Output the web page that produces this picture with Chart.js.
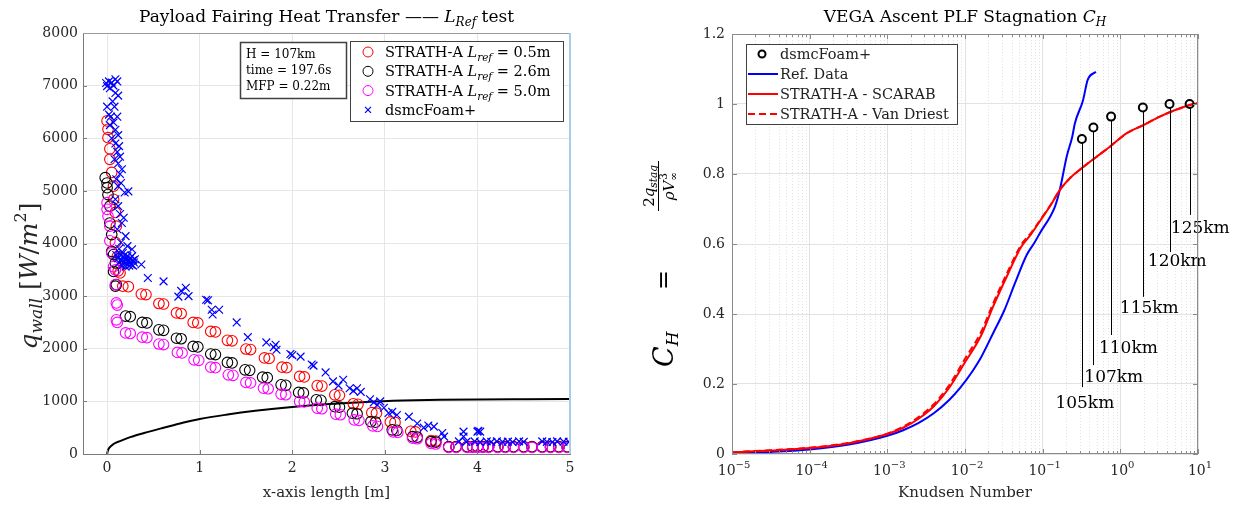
<!DOCTYPE html>
<html><head><meta charset="utf-8">
<script src="https://cdn.jsdelivr.net/npm/chart.js@4.4.1/dist/chart.umd.min.js"></script>
<style>
html,body{margin:0;padding:0;background:#fff;width:1238px;height:505px;overflow:hidden}
#c1{position:absolute;left:0;top:0;width:600px;height:505px}
#c2{position:absolute;left:620px;top:0;width:618px;height:505px}
</style></head><body>
<canvas id="c1" width="600" height="505"></canvas>
<canvas id="c2" width="618" height="505"></canvas>
<script>
// ---------------- LEFT PANEL DATA ----------------
const xTicksLeft = [0, 1, 2, 3, 4, 5];
const yTicksLeft = [0, 1000, 2000, 3000, 4000, 5000, 6000, 7000, 8000];

const strath05 = [[0.00,6330],[0.01,6170],[0.01,6010],[0.03,5800],[0.03,5600],[0.05,5350],[0.07,5090],[0.07,4840],[0.09,4590],[0.10,4330],[0.09,4020],[0.11,3750],[0.12,3480],[0.14,3440],
 [0.17,3190],[0.23,3180],[0.37,3040],[0.42,3030],[0.56,2860],[0.61,2850],[0.75,2680],[0.80,2670],[0.93,2500],[0.98,2490],[1.12,2330],[1.17,2320],[1.30,2160],[1.35,2150],[1.50,1995],[1.55,1985],[1.70,1825],[1.75,1815],[1.89,1650],[1.94,1640],[2.08,1475],[2.13,1465],[2.27,1300],[2.32,1290],[2.46,1125],[2.51,1115],[2.66,955],[2.71,945],[2.86,785],[2.91,775],[3.06,610],[3.11,600],[3.28,430],[3.33,420],[3.50,255],[3.55,245],
 [3.69,140],[3.77,140],[3.89,140],[3.95,140],[4.0,140],[4.06,140],[4.12,140],[4.22,140],[4.30,140],[4.39,140],[4.50,140],[4.59,140],[4.70,140],[4.79,140],[4.88,140],[4.97,140]];
const strath26 = [[-0.02,5250],[0.00,5150],[0.00,5060],[0.01,4930],[0.03,4710],[0.03,4390],[0.05,4170],[0.05,3850],[0.07,3790],[0.09,3630],[0.07,3470],[0.10,3220],[0.09,3190],
 [0.20,2620],[0.25,2610],[0.38,2500],[0.43,2490],[0.56,2360],[0.61,2350],[0.75,2200],[0.80,2190],[0.93,2045],[0.98,2035],[1.12,1900],[1.17,1890],[1.30,1740],[1.35,1730],[1.49,1600],[1.54,1590],[1.68,1460],[1.73,1450],[1.88,1315],[1.93,1305],[2.07,1170],[2.12,1160],[2.26,1030],[2.31,1020],[2.46,900],[2.51,890],[2.65,775],[2.70,765],[2.85,615],[2.90,605],[3.08,460],[3.13,450],[3.30,330],[3.35,320],[3.50,235],[3.55,225],
 [3.69,135],[3.77,135],[3.89,135],[3.95,135],[4.0,135],[4.06,135],[4.12,135],[4.22,135],[4.30,135],[4.39,135],[4.50,135],[4.59,135],[4.70,135],[4.79,135],[4.88,135],[4.97,135]];
const strath50 = [[0.00,4775],[0.00,4650],[0.01,4520],[0.03,4330],[0.03,4050],[0.05,3820],[0.07,3560],[0.09,3500],[0.09,3220],[0.10,2870],[0.11,2830],[0.10,2550],[0.11,2500],
 [0.20,2300],[0.25,2290],[0.38,2220],[0.43,2210],[0.56,2090],[0.61,2080],[0.76,1930],[0.81,1920],[0.94,1790],[0.99,1780],[1.12,1650],[1.17,1640],[1.31,1505],[1.36,1495],[1.50,1360],[1.55,1350],[1.69,1250],[1.74,1240],[1.88,1136],[1.93,1126],[2.08,1000],[2.13,990],[2.27,870],[2.32,860],[2.47,756],[2.52,746],[2.67,648],[2.72,638],[2.87,533],[2.92,523],[3.09,420],[3.14,410],[3.30,300],[3.35,290],[3.50,200],[3.55,190],
 [3.69,125],[3.77,125],[3.89,125],[3.95,125],[4.0,125],[4.06,125],[4.12,125],[4.22,125],[4.30,125],[4.39,125],[4.50,125],[4.59,125],[4.70,125],[4.79,125],[4.88,125],[4.97,125]];
const dsmcLeft = [[-0.01,7050],[0.00,6990],[0.02,7080],[0.05,7060],[0.07,7000],[0.09,7120],[0.11,7080],[0.03,6950],[0.09,6860],[0.12,6810],[0.00,6600],[0.06,6700],[0.08,6600],[0.02,6450],[0.04,6410],[0.11,6410],[0.03,6250],[0.07,6300],[0.09,6160],[0.12,6060],[0.05,6000],[0.09,5900],[0.13,5850],[0.11,5740],[0.14,5650],[0.08,5600],[0.12,5520],[0.16,5410],[0.14,5320],[0.10,5220],[0.12,5090],[0.15,5150],[0.19,4970],[0.23,4990],[0.09,4840],[0.12,4710],[0.14,4560],[0.18,4490],[0.16,4390],[0.11,4270],[0.20,4140],[0.15,4020],[0.22,3950],[0.27,3890],[0.13,3900],[0.17,3820],
 [0.10,3780],[0.12,3720],[0.14,3800],[0.15,3680],[0.17,3740],[0.18,3650],[0.19,3780],[0.20,3700],[0.21,3620],[0.22,3760],[0.23,3680],[0.24,3640],[0.25,3720],[0.26,3600],[0.27,3760],[0.28,3680],[0.29,3640],[0.30,3700],[0.13,3640],[0.16,3580],[0.20,3560],[0.24,3580],[0.28,3580],
 [0.37,3600],[0.44,3345],[0.61,3280],[0.77,2990],[0.80,3100],[0.85,3160],[0.88,3000],[1.07,2930],[1.09,2920],[1.13,2740],[1.14,2650],[1.21,2740],[1.40,2500],[1.52,2220],[1.72,2120],[1.80,2030],[1.83,1980],[1.82,2075],[1.98,1900],[2.00,1880],[2.09,1850],[2.21,1700],[2.23,1680],[2.36,1550],[2.44,1380],[2.50,1300],[2.55,1410],[2.62,1250],[2.66,1200],[2.70,1250],[2.74,1180],[2.84,1040],[2.88,980],[2.92,930],[2.95,1000],[2.99,880],[3.04,780],[3.08,800],[3.13,740],[3.26,710],[3.35,580],[3.42,500],[3.47,540],[3.53,520],[3.62,400],[3.64,330],[3.85,425],[3.85,330],[4.00,425],[4.03,425],[4.01,440],
 [3.80,240],[3.88,230],[3.97,240],[4.03,225],[4.10,240],[4.15,230],[4.21,240],[4.27,230],[4.33,235],[4.38,225],[4.45,240],[4.50,230],[4.70,240],[4.75,230],[4.81,225],[4.86,240],[4.93,235],[4.99,230]];
const wallLineX = [0, 0.01, 0.03, 0.07, 0.14, 0.25, 0.4, 0.6, 0.8, 1.0, 1.3, 1.6, 2.0, 2.4, 2.8, 3.2, 3.6, 4.0, 4.5, 5.0];
const wallLineY = [0, 70, 130, 190, 245, 320, 400, 495, 585, 665, 750, 820, 895, 950, 990, 1015, 1030, 1038, 1042, 1045];

// ---------------- RIGHT PANEL DATA ----------------
const refKn = [1e-5,3.2e-5,1e-4,3.2e-4,1e-3,1.6e-3,2.5e-3,4e-3,6.3e-3,8.6e-3,1.26e-2,1.6e-2,2.3e-2,3.2e-2,4.4e-2,6.2e-2,7.9e-2,9.2e-2,0.144,0.166,0.204,0.24,0.26,0.331,0.38,0.484];
const refCH = [0.002,0.006,0.013,0.027,0.052,0.068,0.088,0.117,0.155,0.188,0.238,0.275,0.345,0.41,0.488,0.568,0.605,0.631,0.707,0.754,0.85,0.906,0.945,1.011,1.069,1.092];
const strathKn = [1e-5,3.2e-5,1e-4,3.2e-4,1e-3,1.6e-3,2.5e-3,4e-3,6.3e-3,1e-2,1.6e-2,2.3e-2,3.5e-2,5.3e-2,7.1e-2,9.2e-2,0.126,0.166,0.229,0.316,0.5,0.733,1.2,2.0,3.22,5.0,7.83,10];
const scarabCH = [0.005,0.010,0.017,0.031,0.057,0.075,0.100,0.137,0.190,0.262,0.337,0.421,0.51,0.592,0.628,0.665,0.71,0.754,0.79,0.816,0.85,0.878,0.916,0.94,0.964,0.982,0.997,1.003];
const vanDriestCH = [0.005,0.011,0.018,0.032,0.058,0.078,0.105,0.143,0.198,0.272,0.347,0.43,0.518,0.598,0.632,0.667,0.711,0.754,0.79,0.816,0.85,0.878,0.916,0.94,0.964,0.982,0.997,1.003];
const dsmcKn = [0.32, 0.45, 0.76, 1.95, 4.3, 7.8];
const dsmcCH = [0.90, 0.933, 0.964, 0.99, 1.0, 1.0];
const altLabels = ['105km','107km','110km','115km','120km','125km'];
const altLeaderEndCH = [0.191, 0.254, 0.34, 0.449, 0.577, 0.683];
const altLabelCH = [0.149, 0.223, 0.306, 0.42, 0.554, 0.649];
const altLabelKn = [0.349, 0.824, 1.27, 2.36, 5.41, 10.7];
const yTicksRight = [0, 0.2, 0.4, 0.6, 0.8, 1, 1.2];

// ---------------- HELPERS ----------------
const FONT = '"DejaVu Serif", serif';
const TXT = '#262626';
Chart.defaults.font.family = FONT;
Chart.defaults.color = TXT;
function setFont(ctx, s, i){ ctx.font = (i ? 'italic ' : '') + s + 'px ' + FONT; }
function richWidth(ctx, parts){ let w = 0; for (const p of parts){ setFont(ctx, p.s, p.i); w += ctx.measureText(p.t).width; } return w; }
function drawRich(ctx, parts, x, y, align){
  const w = richWidth(ctx, parts);
  let cx = align === 'center' ? x - w/2 : align === 'right' ? x - w : x;
  ctx.textAlign = 'left'; ctx.textBaseline = 'alphabetic';
  for (const p of parts){ setFont(ctx, p.s, p.i); ctx.fillText(p.t, cx, y + (p.dy || 0)); cx += ctx.measureText(p.t).width; }
  return w;
}
function seg(ctx, x1, y1, x2, y2){ ctx.beginPath(); ctx.moveTo(x1, y1); ctx.lineTo(x2, y2); ctx.stroke(); }
const pts = arr => arr.map(p => ({x: p[0], y: p[1]}));
const zipPts = (xs, ys) => xs.map((x, i) => ({x, y: ys[i]}));
const isPow10 = v => { const e = Math.round(Math.log10(v)); return Math.abs(v / Math.pow(10, e) - 1) < 1e-6; };

// ---------------- LEFT CHART ----------------
const leftDecor = {
  id: 'leftDecor',
  afterDraw(chart){
    const {ctx, chartArea: a, scales} = chart;
    ctx.save();
    ctx.strokeStyle = '#7a7a7a'; ctx.lineWidth = 1;
    for (const v of xTicksLeft){ const px = Math.round(scales.x.getPixelForValue(v)) + 0.5; seg(ctx, px, a.bottom, px, a.bottom - 4); }
    for (const v of yTicksLeft){ const py = Math.round(scales.y.getPixelForValue(v)) + 0.5; seg(ctx, a.left, py, a.left + 4, py); }
    ctx.strokeStyle = '#9a9a9a'; seg(ctx, a.left, a.top + 0.5, a.right, a.top + 0.5);
    ctx.strokeStyle = '#a9cde8'; ctx.lineWidth = 2; seg(ctx, a.right, a.top, a.right, a.bottom);
    ctx.fillStyle = '#000';
    drawRich(ctx, [{t:'Payload Fairing Heat Transfer ', s:17},{t:'——', s:17},{t:' ', s:17},{t:'L', s:17, i:1},{t:'Ref', s:12, i:1, dy:4},{t:' test', s:17}], (a.left + a.right)/2, 22, 'center');
    ctx.fillStyle = TXT;
    drawRich(ctx, [{t:'x-axis length [m]', s:15}], (a.left + a.right)/2, 497, 'center');
    ctx.save(); ctx.translate(37, 276); ctx.rotate(-Math.PI/2);
    drawRich(ctx, [{t:'q', s:25, i:1},{t:'wall', s:17, i:1, dy:5},{t:' [', s:25},{t:'W', s:25, i:1},{t:'/', s:25},{t:'m', s:25, i:1},{t:'2', s:16, dy:-11},{t:']', s:25}], 0, 0, 'center');
    ctx.restore();
    // info box
    const bx = a.left + 157, by = a.top + 9, bw = 106, bh = 56;
    ctx.fillStyle = '#fff'; ctx.fillRect(bx, by, bw, bh);
    ctx.strokeStyle = '#404040'; ctx.lineWidth = 1.5; ctx.strokeRect(bx + 0.5, by + 0.5, bw, bh);
    ctx.fillStyle = '#000';
    drawRich(ctx, [{t:'H = 107km', s:12}], bx + 6, by + 16, 'left');
    drawRich(ctx, [{t:'time = 197.6s', s:12}], bx + 6, by + 32, 'left');
    drawRich(ctx, [{t:'MFP = 0.22m', s:12}], bx + 6, by + 48, 'left');
    // legend
    const lx = a.right - 220, ly = a.top + 8, lw = 213, lh = 80;
    ctx.fillStyle = '#fff'; ctx.fillRect(lx, ly, lw, lh);
    ctx.strokeStyle = '#404040'; ctx.lineWidth = 1; ctx.strokeRect(lx + 0.5, ly + 0.5, lw, lh);
    const rows = [['#ff0000','0.5m'],['#000000','2.6m'],['#ff00ff','5.0m']];
    rows.forEach((r, k) => {
      const yy = ly + 11 + k * 19.3;
      ctx.strokeStyle = r[0]; ctx.lineWidth = 1; ctx.beginPath(); ctx.arc(lx + 18, yy, 5, 0, Math.PI*2); ctx.stroke();
      ctx.fillStyle = '#000';
      drawRich(ctx, [{t:'STRATH-A ', s:14.5},{t:'L', s:14.5, i:1},{t:'ref', s:10.5, i:1, dy:4},{t:' = ' + r[1], s:14.5}], lx + 35, yy + 5, 'left');
    });
    const y4 = ly + 11 + 3 * 19.3;
    ctx.strokeStyle = '#0000ff'; ctx.lineWidth = 1.2;
    seg(ctx, lx + 15, y4 - 3, lx + 21, y4 + 3); seg(ctx, lx + 15, y4 + 3, lx + 21, y4 - 3);
    ctx.fillStyle = '#000';
    drawRich(ctx, [{t:'dsmcFoam+', s:14.5}], lx + 35, y4 + 5, 'left');
    ctx.restore();
  }
};

new Chart(document.getElementById('c1'), {
  type: 'scatter',
  data: {
    datasets: [
      {data: pts(dsmcLeft), pointStyle: 'crossRot', pointRadius: 5.5, borderColor: '#0000ff', borderWidth: 1.2, backgroundColor: '#0000ff'},
      {data: pts(strath50), pointStyle: 'circle', pointRadius: 5.3, borderColor: '#ff00ff', borderWidth: 1.1, backgroundColor: 'rgba(0,0,0,0)'},
      {data: pts(strath26), pointStyle: 'circle', pointRadius: 5.3, borderColor: '#000000', borderWidth: 1.1, backgroundColor: 'rgba(0,0,0,0)'},
      {data: pts(strath05), pointStyle: 'circle', pointRadius: 5.3, borderColor: '#ff0000', borderWidth: 1.1, backgroundColor: 'rgba(0,0,0,0)'},
      {data: zipPts(wallLineX, wallLineY), showLine: true, pointRadius: 0, borderColor: '#000', borderWidth: 2, cubicInterpolationMode: 'monotone'}
    ]
  },
  options: {
    responsive: false, animation: false, events: [],
    layout: {padding: {top: 33, right: 30, left: 0, bottom: 0}},
    plugins: {legend: {display: false}, tooltip: {enabled: false}},
    scales: {
      x: {type: 'linear', min: -0.26, max: 5,
          afterBuildTicks: s => { s.ticks = xTicksLeft.map(v => ({value: v})); },
          afterFit: s => { s.height = 51; },
          grid: {color: '#e6e6e6', drawTicks: false}, border: {color: '#7a7a7a', width: 1},
          ticks: {color: TXT, font: {size: 14}, padding: 6, maxRotation: 0, autoSkip: false, callback: v => String(v)}},
      y: {type: 'linear', min: 0, max: 8000,
          afterBuildTicks: s => { s.ticks = yTicksLeft.map(v => ({value: v})); },
          afterFit: s => { s.width = 83; },
          grid: {color: '#e6e6e6', drawTicks: false}, border: {color: '#7a7a7a', width: 1},
          ticks: {color: TXT, font: {size: 14}, padding: 5, autoSkip: false, callback: v => String(v)}}
    }
  },
  plugins: [leftDecor]
});

// ---------------- RIGHT CHART ----------------
const knTicks = [];
for (let e = -5; e <= 0; e++) for (let m = 1; m <= 9; m++) knTicks.push(m * Math.pow(10, e));
knTicks.push(10);

const rightDecor = {
  id: 'rightDecor',
  beforeDatasetsDraw(chart){
    const {ctx, chartArea: a, scales} = chart;
    ctx.save();
    ctx.strokeStyle = '#e2e2e2'; ctx.lineWidth = 1; ctx.setLineDash([1, 2]);
    for (const v of knTicks){ if (isPow10(v)) continue; const px = Math.round(scales.x.getPixelForValue(v)) + 0.5; seg(ctx, px, a.top, px, a.bottom); }
    ctx.restore();
  },
  afterDatasetsDraw(chart){
    const {ctx, scales} = chart;
    const X = scales.x, Y = scales.y;
    ctx.save();
    ctx.strokeStyle = '#000'; ctx.lineWidth = 1; ctx.fillStyle = '#000';
    altLabels.forEach((lab, k) => {
      const px = Math.round(X.getPixelForValue(dsmcKn[k])) + 0.5;
      seg(ctx, px, Y.getPixelForValue(dsmcCH[k]) + 4, px, Y.getPixelForValue(altLeaderEndCH[k]));
      drawRich(ctx, [{t: lab, s: 17}], X.getPixelForValue(altLabelKn[k]), Y.getPixelForValue(altLabelCH[k]) + 6, 'center');
    });
    ctx.restore();
  },
  afterDraw(chart){
    const {ctx, chartArea: a, scales} = chart;
    const X = scales.x, Y = scales.y;
    ctx.save();
    ctx.strokeStyle = '#8a8a8a'; ctx.lineWidth = 1;
    ctx.strokeRect(a.left + 0.5, a.top + 0.5, a.right - a.left - 1, a.bottom - a.top - 1);
    for (const v of knTicks){
      const px = Math.round(X.getPixelForValue(v)) + 0.5; const L = isPow10(v) ? 5 : 3;
      seg(ctx, px, a.bottom, px, a.bottom - L); seg(ctx, px, a.top, px, a.top + L);
    }
    for (const v of yTicksRight){
      const py = Math.round(Y.getPixelForValue(v)) + 0.5;
      seg(ctx, a.left, py, a.left + 5, py); seg(ctx, a.right, py, a.right - 5, py);
    }
    ctx.fillStyle = TXT;
    for (const v of knTicks){
      if (!isPow10(v)) continue;
      const e = Math.round(Math.log10(v));
      drawRich(ctx, [{t:'10', s:14},{t: e < 0 ? '−' + (-e) : String(e), s:10, dy:-7}], X.getPixelForValue(v) + 2, a.bottom + 21, 'center');
    }
    ctx.fillStyle = '#000';
    drawRich(ctx, [{t:'VEGA Ascent PLF Stagnation ', s:17},{t:'C', s:17, i:1},{t:'H', s:12, i:1, dy:4}], (a.left + a.right)/2, 22, 'center');
    ctx.fillStyle = TXT;
    drawRich(ctx, [{t:'Knudsen Number', s:15}], (a.left + a.right)/2, 497, 'center');
    // y title (rotated)
    ctx.save(); ctx.translate(53, 0); ctx.rotate(-Math.PI/2);
    ctx.fillStyle = '#000';
    drawRich(ctx, [{t:'C', s:27, i:1},{t:'H', s:17, i:1, dy:5}], -367, 0, 'left');
    drawRich(ctx, [{t:'=', s:24}], -280, -2, 'center');
    const fc = -186;
    const num = [{t:'2', s:15},{t:'q', s:15, i:1},{t:'stag', s:10.5, i:1, dy:3}];
    drawRich(ctx, num, fc, -19, 'center');
    ctx.strokeStyle = '#000'; ctx.lineWidth = 1; seg(ctx, fc - 25, -14.5, fc + 25, -14.5);
    setFont(ctx, 15, 1); const wr = ctx.measureText('ρV').width;
    const d0 = fc - (wr + 9) / 2;
    drawRich(ctx, [{t:'ρV', s:15, i:1}], d0, 1, 'left');
    drawRich(ctx, [{t:'3', s:10.5}], d0 + wr + 1, -6, 'left');
    drawRich(ctx, [{t:'∞', s:10.5}], d0 + wr, 4, 'left');
    ctx.restore();
    // legend
    const lx = a.left + 14, ly = a.top + 10, lw = 211, lh = 80;
    ctx.fillStyle = '#fff'; ctx.fillRect(lx, ly, lw, lh);
    ctx.strokeStyle = '#404040'; ctx.lineWidth = 1; ctx.strokeRect(lx + 0.5, ly + 0.5, lw, lh);
    const ry = k => ly + 10 + k * 20;
    ctx.strokeStyle = '#000'; ctx.lineWidth = 2; ctx.beginPath(); ctx.arc(lx + 16, ry(0), 3.5, 0, Math.PI*2); ctx.stroke();
    ctx.strokeStyle = '#0000ff'; seg(ctx, lx + 2, ry(1), lx + 32, ry(1));
    ctx.strokeStyle = '#ff0000'; seg(ctx, lx + 2, ry(2), lx + 32, ry(2));
    ctx.setLineDash([7, 4]); seg(ctx, lx + 2, ry(3), lx + 32, ry(3)); ctx.setLineDash([]);
    ctx.fillStyle = '#222';
    const lab = ['dsmcFoam+', 'Ref. Data', 'STRATH-A - SCARAB', 'STRATH-A - Van Driest'];
    lab.forEach((t, k) => drawRich(ctx, [{t, s:14.5}], lx + 34, ry(k) + 5, 'left'));
    ctx.restore();
  }
};

new Chart(document.getElementById('c2'), {
  type: 'scatter',
  data: {
    datasets: [
      {data: zipPts(dsmcKn, dsmcCH), pointStyle: 'circle', pointRadius: 4, borderColor: '#000', borderWidth: 2, backgroundColor: 'rgba(0,0,0,0)'},
      {data: zipPts(strathKn, vanDriestCH), showLine: true, pointRadius: 0, borderColor: '#ff0000', borderWidth: 2, borderDash: [7, 4], cubicInterpolationMode: 'monotone'},
      {data: zipPts(strathKn, scarabCH), showLine: true, pointRadius: 0, borderColor: '#ff0000', borderWidth: 2, cubicInterpolationMode: 'monotone'},
      {data: zipPts(refKn, refCH), showLine: true, pointRadius: 0, borderColor: '#0000ff', borderWidth: 2, cubicInterpolationMode: 'monotone'}
    ]
  },
  options: {
    responsive: false, animation: false, events: [],
    layout: {padding: {top: 34, right: 40, left: 0, bottom: 0}},
    plugins: {legend: {display: false}, tooltip: {enabled: false}},
    scales: {
      x: {type: 'logarithmic', min: 1e-5, max: 10,
          afterBuildTicks: s => { s.ticks = knTicks.map(v => ({value: v, major: isPow10(v)})); },
          afterFit: s => { s.height = 51; },
          grid: {color: c => (c.tick && isPow10(c.tick.value)) ? '#e2e2e2' : 'rgba(0,0,0,0)', drawTicks: false},
          border: {display: false},
          ticks: {display: false, autoSkip: false}},
      y: {type: 'linear', min: 0, max: 1.2,
          afterBuildTicks: s => { s.ticks = yTicksRight.map(v => ({value: v})); },
          afterFit: s => { s.width = 112; },
          grid: {color: '#e2e2e2', drawTicks: false}, border: {display: false},
          ticks: {color: TXT, font: {size: 14}, padding: 7, autoSkip: false, callback: v => String(+v.toFixed(1))}}
    }
  },
  plugins: [rightDecor]
});
</script>
</body></html>
